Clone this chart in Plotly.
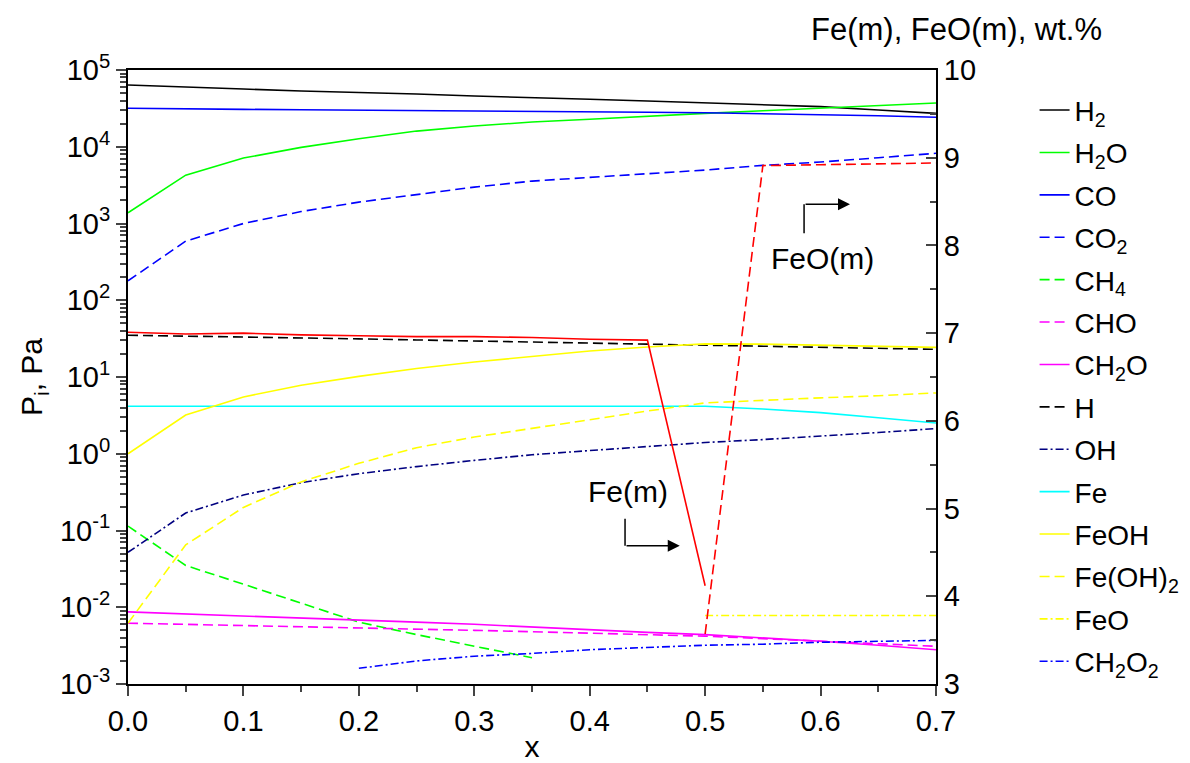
import plotly.graph_objects as go

# ---- data ----
X = [0.0, 0.05, 0.1, 0.15, 0.2, 0.25, 0.3, 0.35, 0.4, 0.45, 0.5, 0.55, 0.6, 0.65, 0.7]
H2 = [63700, 59500, 56500, 53200, 51200, 48600, 45800, 43200, 41500, 39400, 37500, 35300, 33300, 30100, 27200]
H2O = [1380, 4270, 7130, 9820, 12700, 16000, 18600, 21000, 22800, 25100, 27200, 29400, 31700, 34300, 37200]
CO = [31700, 31000, 30700, 30400, 30100, 29600, 29200, 28600, 28300, 28100, 27700, 27100, 26400, 25400, 24200]
CO2 = [179, 590, 1000, 1430, 1900, 2370, 2980, 3570, 3990, 4370, 4970, 5720, 6320, 7190, 8210]
X_CH4 = [0.0, 0.05, 0.1, 0.15, 0.2, 0.25, 0.3, 0.35]
CH4 = [0.114, 0.035, 0.020, 0.0113, 0.0064, 0.0044, 0.0031, 0.0022]
CHO = [0.0062, 0.0060, 0.0058, 0.0056, 0.0054, 0.0052, 0.0050, 0.0048, 0.0046, 0.0044, 0.0042, 0.0039, 0.0036, 0.0034, 0.0031]
CH2O = [0.0087, 0.0082, 0.0078, 0.0073, 0.0069, 0.0064, 0.0060, 0.0055, 0.0051, 0.0047, 0.0044, 0.0040, 0.0036, 0.0032, 0.0028]
H = [35, 34.2, 33.3, 32.3, 31.4, 30.4, 29.5, 28.8, 28.0, 27.2, 26.1, 25.4, 24.6, 23.8, 22.9]
OH = [0.052, 0.169, 0.29, 0.42, 0.55, 0.68, 0.82, 0.97, 1.10, 1.25, 1.40, 1.53, 1.69, 1.89, 2.13]
Fe = [4.16, 4.16, 4.16, 4.16, 4.16, 4.16, 4.16, 4.16, 4.16, 4.16, 4.16, 3.83, 3.43, 2.94, 2.52]
FeOH = [1.0, 3.2, 5.5, 7.8, 10.2, 12.9, 15.7, 18.7, 21.8, 24.6, 27.0, 26.8, 26.1, 25.3, 24.3]
FeOH2 = [0.0062, 0.065, 0.2, 0.43, 0.75, 1.2, 1.65, 2.15, 2.8, 3.6, 4.6, 5.0, 5.35, 5.7, 6.2]
X_FeO = [0.5, 0.55, 0.6, 0.65, 0.7]
FeO = [0.0078, 0.0078, 0.0078, 0.0078, 0.0078]
X_CH2O2 = [0.2, 0.25, 0.3, 0.35, 0.4, 0.45, 0.5, 0.55, 0.6, 0.65, 0.7]
CH2O2 = [0.0016, 0.0020, 0.0023, 0.0025, 0.0028, 0.0030, 0.0032, 0.0033, 0.0035, 0.0036, 0.0037]
# right axis (wt.%)
X_Fem = [0.0, 0.05, 0.1, 0.15, 0.2, 0.25, 0.3, 0.35, 0.4, 0.45, 0.5]
Fe_m = [7.01, 6.99, 7.00, 6.98, 6.97, 6.96, 6.96, 6.95, 6.93, 6.92, 4.12]
X_FeOm = [0.5, 0.55, 0.6, 0.65, 0.7]
FeO_m = [3.57, 8.91, 8.92, 8.93, 8.94]

LEFT_TICKS = [1e-3, 1e-2, 1e-1, 1e0, 1e1, 1e2, 1e3, 1e4, 1e5]
LEFT_LABELS = ["10<sup>-3</sup>", "10<sup>-2</sup>", "10<sup>-1</sup>", "10<sup>0</sup>",
               "10<sup>1</sup>", "10<sup>2</sup>", "10<sup>3</sup>", "10<sup>4</sup>", "10<sup>5</sup>"]

FONT = "Liberation Sans, Arial, sans-serif"
DASH = "10px,5px"
DASHDOT = "8px,3px,2px,3px"
LW = 1.6

series = [
    ("H<sub>2</sub>", X, H2, "#000000", "solid"),
    ("H<sub>2</sub>O", X, H2O, "#00FF00", "solid"),
    ("CO", X, CO, "#0000FF", "solid"),
    ("CO<sub>2</sub>", X, CO2, "#0000FF", DASH),
    ("CH<sub>4</sub>", X_CH4, CH4, "#00FF00", DASH),
    ("CHO", X, CHO, "#FF00FF", DASH),
    ("CH<sub>2</sub>O", X, CH2O, "#FF00FF", "solid"),
    ("H", X, H, "#000000", DASH),
    ("OH", X, OH, "#000080", DASHDOT),
    ("Fe", X, Fe, "#00FFFF", "solid"),
    ("FeOH", X, FeOH, "#FFFF00", "solid"),
    ("Fe(OH)<sub>2</sub>", X, FeOH2, "#FFFF00", DASH),
    ("FeO", X_FeO, FeO, "#FFFF00", DASHDOT),
    ("CH<sub>2</sub>O<sub>2</sub>", X_CH2O2, CH2O2, "#0000FF", DASHDOT),
]

fig = go.Figure()
for name, xs, ys, col, dash in series:
    fig.add_trace(go.Scatter(x=xs, y=ys, mode="lines", name=name, legendgroup=name,
                             line=dict(color=col, width=LW, dash=dash), yaxis="y"))

fig.add_trace(go.Scatter(x=X_Fem, y=Fe_m, mode="lines", name="Fe(m)", showlegend=False,
                         line=dict(color="#FF0000", width=LW), yaxis="y2"))
fig.add_trace(go.Scatter(x=X_FeOm, y=FeO_m, mode="lines", name="FeO(m)", showlegend=False,
                         line=dict(color="#FF0000", width=LW, dash=DASH), yaxis="y2"))

minor_vals = []
for e in range(-3, 5):
    for m in range(2, 10):
        minor_vals.append(m * 10 ** e)

# page body has an 8px margin: figure is sized so the plot area lands at the reference position
fig.update_layout(
    width=1182, height=755,
    margin=dict(l=120, r=254, t=62, b=79, autoexpand=False),
    paper_bgcolor="white", plot_bgcolor="white",
    font=dict(family=FONT, size=29, color="black"),
    showlegend=True,
    legend=dict(x=1.122, y=0.975, xanchor="left", yanchor="top",
                font=dict(size=28), tracegroupgap=3, bgcolor="rgba(0,0,0,0)"),
    xaxis=dict(range=[0, 0.7], dtick=0.1, tickformat=".1f", ticks="outside", ticklen=10,
               tickwidth=2, showline=True, linewidth=2, linecolor="black", mirror=True,
               showgrid=False, zeroline=False, automargin=False,
               minor=dict(dtick=0.05, ticks="outside", ticklen=6, tickwidth=2, showgrid=False),
               title=dict(text="x", font=dict(size=30), standoff=0)),
    yaxis=dict(type="log", range=[-3, 5], tickvals=LEFT_TICKS, ticktext=LEFT_LABELS,
               ticks="outside", ticklen=10, tickwidth=2, showline=True, linewidth=2,
               linecolor="black", showgrid=False, zeroline=False, automargin=False,
               minor=dict(tickvals=minor_vals, ticks="outside", ticklen=6, tickwidth=1.5, showgrid=False),
               title=dict(text="P<sub>i</sub>, Pa", font=dict(size=30), standoff=8)),
    yaxis2=dict(overlaying="y", side="right", range=[3, 10], dtick=1, ticks="inside",
                ticklen=10, tickwidth=2, showline=True, linewidth=2, linecolor="black",
                showgrid=False, zeroline=False, automargin=False,
                minor=dict(dtick=0.5, ticks="inside", ticklen=6, tickwidth=2, showgrid=False)),
)

# annotations
fig.add_annotation(text="Fe(m), FeO(m), wt.%", xref="paper", yref="paper", x=1.0248, y=1.066,
                   xanchor="center", yanchor="middle", showarrow=False, font=dict(size=31))
fig.add_annotation(text="Fe(m)", xref="x", yref="y2", x=0.433, y=5.19, showarrow=False,
                   font=dict(size=30), xanchor="center", yanchor="middle")
fig.add_annotation(text="FeO(m)", xref="x", yref="y2", x=0.602, y=7.853, showarrow=False,
                   font=dict(size=30), xanchor="center", yanchor="middle")
# Fe(m) arrow
fig.add_shape(type="line", xref="x", yref="y2", x0=0.4306, y0=4.884, x1=0.4306, y1=4.576,
              line=dict(color="black", width=1.5))
fig.add_annotation(text="", xref="x", yref="y2", axref="x", ayref="y2",
                   x=0.478, y=4.576, ax=0.4306, ay=4.576, showarrow=True,
                   arrowhead=2, arrowsize=1.6, arrowwidth=1.5, arrowcolor="black")
# FeO(m) arrow
fig.add_shape(type="line", xref="x", yref="y2", x0=0.5857, y0=8.139, x1=0.5857, y1=8.470,
              line=dict(color="black", width=1.5))
fig.add_annotation(text="", xref="x", yref="y2", axref="x", ayref="y2",
                   x=0.6255, y=8.470, ax=0.5857, ay=8.470, showarrow=True,
                   arrowhead=2, arrowsize=1.6, arrowwidth=1.5, arrowcolor="black")

fig.write_html("out.html")
